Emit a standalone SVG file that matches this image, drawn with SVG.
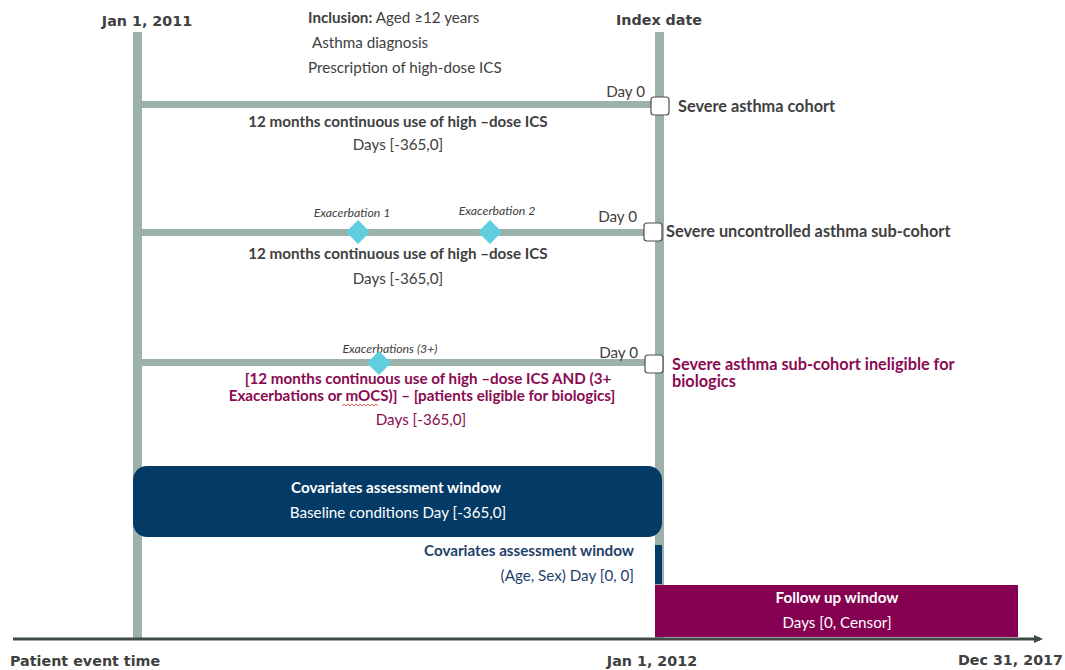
<svg xmlns="http://www.w3.org/2000/svg" width="1065" height="670" viewBox="0 0 1065 670">
<defs>
<style>
.bar{fill:#9db1ab}
.hdr{font-family:"DejaVu Sans",sans-serif;font-weight:bold;font-size:14.3px;fill:#404040}
.t{font-family:Lato,"Liberation Sans",sans-serif;font-size:15.2px;fill:#404040}
.big{font-size:16.3px}
.b{font-weight:bold}
.ex{font-family:Lato,"Liberation Sans",sans-serif;font-style:italic;font-size:12.3px;fill:#404040}
.mag{fill:#8a0a52}
.navy{fill:#1f3f6a}
.w{fill:#ffffff}
.chk{fill:#ffffff;stroke:#505050;stroke-width:1.2}
.dia{fill:#5fcfdf}
</style>
<marker id="arr" markerWidth="10" markerHeight="10" refX="6" refY="5" orient="auto" markerUnits="userSpaceOnUse">
<path d="M0,1 L9,5 L0,9 Z" fill="#404848"/>
</marker>
</defs>
<rect width="1065" height="670" fill="#ffffff"/>

<g id="connectors">
<rect class="bar" x="133" y="32" width="9" height="608"/>
<rect class="bar" x="655" y="32" width="9" height="608"/>
<rect class="bar" x="137" y="101" width="516" height="7"/>
<rect class="bar" x="137" y="229" width="510" height="7"/>
<rect class="bar" x="137" y="359" width="510" height="7"/>
<line x1="13" y1="639" x2="1040" y2="639" stroke="#404848" stroke-width="3" marker-end="url(#arr)"/>
</g>

<g id="header">
<text class="hdr" x="147" y="26" text-anchor="middle">Jan 1, 2011</text>
<text class="hdr" x="659" y="25" text-anchor="middle">Index date</text>
<text class="t" x="308" y="23"><tspan class="b">Inclusion:</tspan> Aged ≥12 years</text>
<text class="t" x="312" y="48">Asthma diagnosis</text>
<text class="t" x="308" y="73">Prescription of high-dose ICS</text>
</g>

<g id="cohort1">
<text class="t" x="645" y="97" text-anchor="end">Day 0</text>
<rect class="chk" x="651" y="97" width="18" height="18" rx="3"/>
<text class="t b big" x="678" y="112">Severe asthma cohort</text>
<text class="t b" x="398" y="127" text-anchor="middle">12 months continuous use of high –dose ICS</text>
<text class="t" x="398" y="150" text-anchor="middle">Days [-365,0]</text>
</g>

<g id="cohort2">
<text class="ex" x="352" y="217" text-anchor="middle">Exacerbation 1</text>
<text class="ex" x="497" y="215" text-anchor="middle">Exacerbation 2</text>
<path class="dia" d="M358,220 L370,232 L358,244 L346,232 Z"/>
<path class="dia" d="M490,220 L502,232 L490,244 L478,232 Z"/>
<text class="t" x="637" y="222" text-anchor="end">Day 0</text>
<rect class="chk" x="644" y="223" width="18" height="18" rx="3"/>
<text class="t b big" x="666" y="237">Severe uncontrolled asthma sub-cohort</text>
<text class="t b" x="398" y="259" text-anchor="middle">12 months continuous use of high –dose ICS</text>
<text class="t" x="398" y="284" text-anchor="middle">Days [-365,0]</text>
</g>

<g id="cohort3">
<text class="ex" x="390" y="353" text-anchor="middle">Exacerbations (3+)</text>
<path class="dia" d="M379,351 L391,363 L379,375 L367,363 Z"/>
<text class="t" x="638" y="358" text-anchor="end">Day 0</text>
<rect class="chk" x="645" y="355" width="18" height="18" rx="3"/>
<text class="t b big mag" x="672" y="370">Severe asthma sub-cohort ineligible for</text>
<text class="t b big mag" x="672" y="387">biologics</text>
<text class="t b mag" x="428" y="384" text-anchor="middle">[12 months continuous use of high –dose ICS AND (3+</text>
<text class="t b mag" x="422" y="401" text-anchor="middle">Exacerbations or mOCS)] – [patients eligible for biologics]</text>
<path d="M342,406 l2,-2 l2,2 l2,-2 l2,2 l2,-2 l2,2 l2,-2 l2,2 l2,-2 l2,2 l2,-2 l2,2 l2,-2 l2,2 l2,-2 l2,2 l2,-2 l2,2" fill="none" stroke="#e03030" stroke-width="0.8"/>
<text class="t mag" x="421" y="425" text-anchor="middle">Days [-365,0]</text>
</g>

<g id="covariates-baseline">
<rect x="133" y="466" width="529" height="71" rx="14" fill="#033a66"/>
<text class="t b w" x="396" y="493" text-anchor="middle">Covariates assessment window</text>
<text class="t w" x="398" y="518" text-anchor="middle">Baseline conditions Day [-365,0]</text>
</g>

<g id="covariates-index">
<rect x="655" y="545" width="7" height="39" fill="#033a66"/>
<text class="t b navy" x="634" y="556" text-anchor="end">Covariates assessment window</text>
<text class="t navy" x="634" y="581" text-anchor="end">(Age, Sex) Day [0, 0]</text>
</g>

<g id="followup">
<rect x="655" y="585" width="363" height="52" fill="#850050"/>
<text class="t b w" x="837" y="603" text-anchor="middle">Follow up window</text>
<text class="t w" x="837" y="628" text-anchor="middle">Days [0, Censor]</text>
</g>

<g id="axis-labels">
<text class="hdr" x="10" y="666">Patient event time</text>
<text class="hdr" x="652" y="666" text-anchor="middle">Jan 1, 2012</text>
<text class="hdr" x="1063" y="665" text-anchor="end">Dec 31, 2017</text>
</g>
</svg>
